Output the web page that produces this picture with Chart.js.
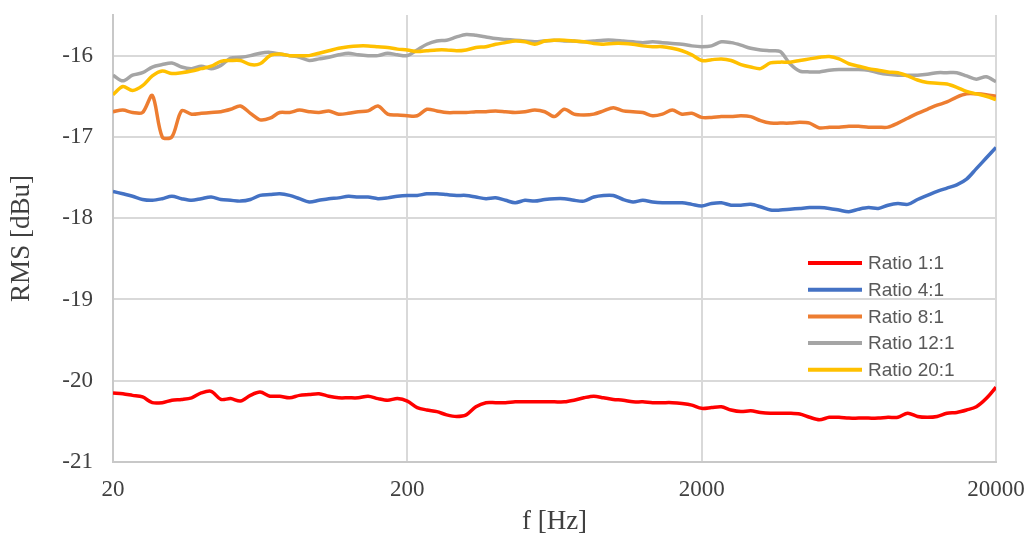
<!DOCTYPE html>
<html>
<head>
<meta charset="utf-8">
<script src="https://cdn.jsdelivr.net/npm/chart.js@4.4.1/dist/chart.umd.min.js"></script>
<style>
    html, body { margin: 0; padding: 0; background: #fff; }
</style>
</head>
<body>
<canvas id="chart" width="1028" height="540"></canvas>
<script>
// Frequencies (Hz), 30 points per decade
const freqs = [
    20, 21.6, 23.3, 25.2, 27.2, 29.4, 31.7, 34.2, 37.0, 39.9,
    43.1, 46.5, 50.2, 54.2, 58.6, 63.2, 68.3, 73.7, 79.6, 86.0,
    92.8, 100.2, 108.2, 116.9, 126.2, 136.3, 147.1, 158.9, 171.5, 185.2,
    200, 216, 233, 252, 272, 294, 317, 342, 370, 399,
    431, 465, 502, 542, 586, 632, 683, 737, 796, 860,
    928, 1002, 1082, 1169, 1262, 1363, 1471, 1589, 1715, 1852,
    2000, 2160, 2332, 2518, 2719, 2936, 3170, 3423, 3696, 3991,
    4309, 4653, 5024, 5425, 5857, 6325, 6829, 7374, 7962, 8597,
    9283, 10024, 10823, 11687, 12619, 13626, 14713, 15887, 17154, 18522,
    20000
];

const ratio1 = [
    -20.15, -20.16, -20.18, -20.20, -20.27, -20.27, -20.24, -20.23, -20.21, -20.15,
    -20.13, -20.23, -20.22, -20.25, -20.18, -20.14, -20.19, -20.19, -20.21, -20.18,
    -20.17, -20.16, -20.19, -20.21, -20.21, -20.21, -20.19, -20.22, -20.24, -20.22,
    -20.25, -20.33, -20.36, -20.38, -20.42, -20.44, -20.42, -20.32, -20.27, -20.27,
    -20.27, -20.26, -20.26, -20.26, -20.26, -20.26, -20.26, -20.24, -20.21, -20.19,
    -20.21, -20.23, -20.24, -20.26, -20.26, -20.27, -20.27, -20.27, -20.28, -20.30,
    -20.34, -20.33, -20.32, -20.36, -20.38, -20.37, -20.39, -20.40, -20.40, -20.40,
    -20.41, -20.45, -20.48, -20.45, -20.45, -20.46, -20.46, -20.46, -20.46, -20.45,
    -20.45, -20.40, -20.44, -20.45, -20.44, -20.40, -20.39, -20.36, -20.32, -20.22,
    -20.08
];

const ratio4 = [
    -17.67, -17.70, -17.73, -17.77, -17.78, -17.76, -17.73, -17.76, -17.78, -17.76,
    -17.74, -17.77, -17.78, -17.79, -17.77, -17.72, -17.71, -17.70, -17.72, -17.76,
    -17.80, -17.78, -17.76, -17.75, -17.73, -17.74, -17.74, -17.76, -17.75, -17.73,
    -17.72, -17.72, -17.70, -17.70, -17.71, -17.72, -17.72, -17.74, -17.76, -17.75,
    -17.78, -17.81, -17.78, -17.79, -17.77, -17.76, -17.76, -17.78, -17.79, -17.74,
    -17.72, -17.72, -17.77, -17.80, -17.78, -17.80, -17.81, -17.81, -17.81, -17.83,
    -17.85, -17.82, -17.81, -17.84, -17.84, -17.83, -17.86, -17.90, -17.90, -17.89,
    -17.88, -17.87, -17.87, -17.88, -17.90, -17.92, -17.89, -17.87, -17.88, -17.84,
    -17.82, -17.83, -17.77, -17.72, -17.67, -17.63, -17.59, -17.52, -17.39, -17.26,
    -17.13
];

const ratio8 = [
    -16.69, -16.67, -16.70, -16.70, -16.49, -17.00, -17.00, -16.68, -16.72, -16.71,
    -16.70, -16.69, -16.66, -16.62, -16.71, -16.79, -16.77, -16.70, -16.70, -16.67,
    -16.69, -16.70, -16.68, -16.72, -16.71, -16.69, -16.68, -16.62, -16.72, -16.73,
    -16.74, -16.74, -16.66, -16.68, -16.70, -16.70, -16.70, -16.69, -16.69, -16.68,
    -16.69, -16.70, -16.69, -16.67, -16.69, -16.75, -16.66, -16.72, -16.73, -16.72,
    -16.68, -16.64, -16.68, -16.69, -16.70, -16.74, -16.72, -16.67, -16.72, -16.71,
    -16.76, -16.76, -16.75, -16.75, -16.74, -16.75, -16.80, -16.83, -16.83, -16.83,
    -16.82, -16.83, -16.89, -16.88, -16.88, -16.87, -16.87, -16.88, -16.88, -16.88,
    -16.83, -16.77, -16.71, -16.66, -16.61, -16.57, -16.51, -16.47, -16.47, -16.48,
    -16.50
];

const ratio12 = [
    -16.24, -16.31, -16.24, -16.21, -16.14, -16.11, -16.09, -16.14, -16.16, -16.13,
    -16.16, -16.12, -16.03, -16.02, -16.00, -15.97, -15.96, -15.98, -16.00, -16.02,
    -16.06, -16.04, -16.02, -15.99, -15.97, -15.99, -16.00, -16.00, -15.97, -15.99,
    -16.00, -15.93, -15.86, -15.82, -15.81, -15.77, -15.74, -15.75, -15.77, -15.79,
    -15.80, -15.81, -15.82, -15.83, -15.82, -15.81, -15.82, -15.82, -15.83, -15.82,
    -15.81, -15.81, -15.82, -15.83, -15.84, -15.83, -15.84, -15.85, -15.86, -15.88,
    -15.89, -15.88, -15.83, -15.84, -15.87, -15.91, -15.93, -15.94, -15.95, -16.10,
    -16.19, -16.20, -16.20, -16.18, -16.17, -16.17, -16.17, -16.18, -16.21, -16.23,
    -16.24, -16.24, -16.24, -16.23, -16.21, -16.21, -16.21, -16.25, -16.29, -16.26,
    -16.32
];

const ratio20 = [
    -16.48, -16.38, -16.43, -16.37, -16.25, -16.19, -16.22, -16.21, -16.19, -16.16,
    -16.13, -16.07, -16.06, -16.06, -16.11, -16.10, -16.00, -15.98, -16.00, -16.00,
    -16.00, -15.97, -15.94, -15.91, -15.89, -15.88, -15.88, -15.89, -15.90, -15.92,
    -15.93, -15.95, -15.94, -15.93, -15.93, -15.94, -15.93, -15.90, -15.89, -15.86,
    -15.84, -15.82, -15.83, -15.86, -15.82, -15.81, -15.81, -15.82, -15.83, -15.85,
    -15.86, -15.85, -15.85, -15.86, -15.88, -15.89, -15.89, -15.91, -15.94, -15.99,
    -16.06, -16.05, -16.04, -16.06, -16.11, -16.14, -16.16, -16.09, -16.08, -16.08,
    -16.06, -16.04, -16.02, -16.01, -16.04, -16.10, -16.13, -16.16, -16.18, -16.20,
    -16.21, -16.25, -16.30, -16.33, -16.34, -16.35, -16.39, -16.44, -16.47, -16.50,
    -16.54
];

const seriesLabels = ['Ratio 1:1', 'Ratio 4:1', 'Ratio 8:1', 'Ratio 12:1', 'Ratio 20:1'];
const seriesColors = ['#FF0000', '#4472C4', '#ED7D31', '#A5A5A5', '#FFC000'];
const seriesValues = [ratio1, ratio4, ratio8, ratio12, ratio20];

const xTicks = [20, 200, 2000, 20000];
const yTicks = [-21, -20, -19, -18, -17, -16];

const tickFont = { family: '"Liberation Serif", "Times New Roman", serif', size: 23 };
const titleFont = { family: '"Liberation Serif", "Times New Roman", serif', size: 27 };
const textColor = '#404040';

// Legend drawn inside the plot area, like the original
const insideLegend = {
    id: 'insideLegend',
    afterDatasetsDraw(chart) {
        const { ctx, chartArea } = chart;
        const x0 = chartArea.right - 188;
        let y = chartArea.top + 248;
        ctx.save();
        ctx.font = '19px "Liberation Sans", Arial, sans-serif';
        ctx.textBaseline = 'middle';
        ctx.textAlign = 'left';
        chart.data.datasets.forEach(ds => {
            ctx.strokeStyle = ds.borderColor;
            ctx.lineWidth = 4;
            ctx.beginPath();
            ctx.moveTo(x0, y);
            ctx.lineTo(x0 + 54, y);
            ctx.stroke();
            ctx.fillStyle = '#595959';
            ctx.fillText(ds.label, x0 + 60, y + 1);
            y += 26.7;
        });
        ctx.restore();
    }
};

// tick labels may overflow the plot edges, as in the original
function noEdgePadding(scale) {
    scale.paddingTop = 0;
    scale.paddingBottom = 0;
    scale.paddingLeft = 0;
    scale.paddingRight = 0;
}

const datasets = seriesValues.map((vals, i) => ({
    label: seriesLabels[i],
    data: vals.map((v, k) => ({ x: freqs[k], y: v })),
    borderColor: seriesColors[i],
    backgroundColor: seriesColors[i],
    borderWidth: 3.5,
    pointRadius: 0,
    tension: 0.3,
    fill: false,
    order: 4 - i
}));

const ctx = document.getElementById('chart').getContext('2d');
new Chart(ctx, {
    type: 'line',
    data: { datasets },
    options: {
        responsive: false,
        animation: false,
        layout: { autoPadding: false, padding: { top: 15, right: 32, left: 0, bottom: 0 } },
        plugins: {
            legend: { display: false },
            tooltip: { enabled: false }
        },
        scales: {
            x: {
                type: 'logarithmic',
                min: 20,
                max: 20000,
                afterBuildTicks: scale => { scale.ticks = xTicks.map(v => ({ value: v })); },
                afterFit: scale => { scale.height = 78; noEdgePadding(scale); },
                ticks: {
                    callback: v => String(v),
                    font: tickFont,
                    color: textColor,
                    padding: 14,
                    maxRotation: 0,
                    autoSkip: false
                },
                grid: { color: '#d9d9d9', lineWidth: 2, drawTicks: false },
                border: { color: '#c8c8c8', width: 2 },
                title: { display: true, text: 'f [Hz]', font: titleFont, color: textColor, padding: { top: 0, bottom: 2 } }
            },
            y: {
                min: -21,
                max: -15.5,
                afterBuildTicks: scale => { scale.ticks = yTicks.map(v => ({ value: v })); },
                afterFit: scale => { scale.width = 113; noEdgePadding(scale); },
                ticks: {
                    callback: v => String(v),
                    font: tickFont,
                    color: textColor,
                    padding: 20
                },
                grid: { color: '#d9d9d9', lineWidth: 2, drawTicks: false },
                border: { color: '#c8c8c8', width: 2 },
                title: { display: true, text: 'RMS [dBu]', font: titleFont, color: textColor, padding: { top: 6, bottom: 0 } }
            }
        }
    },
    plugins: [insideLegend]
});
</script>
</body>
</html>
